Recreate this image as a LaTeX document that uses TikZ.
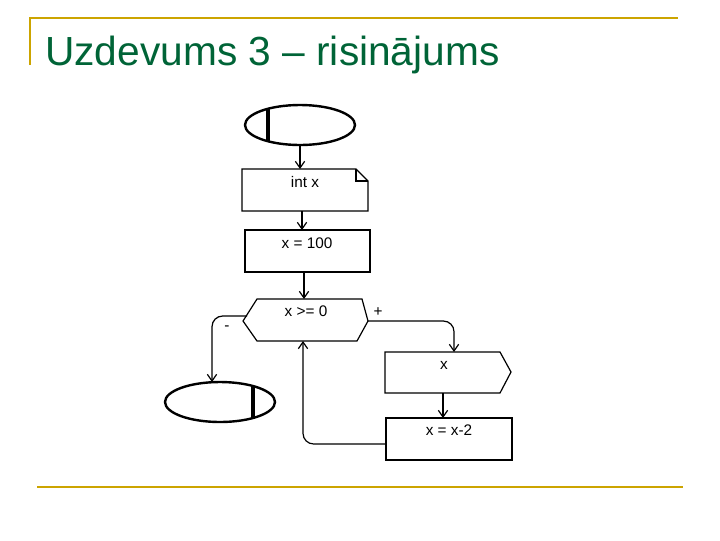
\documentclass[tikz,border=0pt]{standalone}
\usepackage{fontspec}
\setmainfont{Liberation Sans}
\usetikzlibrary{arrows.meta,shapes.geometric}
\definecolor{gold}{RGB}{204,164,0}
\definecolor{ttl}{RGB}{0,100,55}
\begin{document}
\begin{tikzpicture}[x=0.75pt,y=-0.75pt,
  ln/.style={line width=0.9pt},
  arr/.style={ln,-{Straight Barb[length=5pt,width=7pt]},rounded corners=8pt},
  lbl/.style={font=\fontsize{11.5}{13}\selectfont,inner sep=0pt},
  term/.style={ellipse,draw,line width=1.8pt,minimum width=82.5pt,minimum height=30pt,inner sep=0pt}]
\useasboundingbox (0,0) rectangle (720,540);
\draw[gold,line width=2pt] (30,65) -- (30,18) -- (678,18);
\draw[gold,line width=2pt] (37,487) -- (683,487);
\node[anchor=base west,text=ttl,font=\fontsize{30.5}{34}\selectfont,inner sep=0pt] (title) at (45,65) {Uzdevums 3 – risinājums};
% start
\node[term] (s) at (300,125) {};
\draw[line width=2.4pt] (268,109) -- (268,141);
% declare
\draw[ln] (242,169) -- (356,169) -- (368,181) -- (368,211) -- (242,211) -- cycle;
\draw[ln] (356,169) -- (356,181) -- (368,181);
\coordinate (dtop) at (300,169);
\coordinate (dbot) at (302,211);
\node[lbl] (d) at (305,182) {int x};
% assign
\draw[ln] (245,230) rectangle (370,272);
\coordinate (atop) at (302,230);
\coordinate (abot) at (304,272);
\node[lbl] (a) at (307,243) {x = 100};
% decision
\draw[ln] (243,321) -- (257,299) -- (362,299) -- (368,321) -- (357,341) -- (257,341) -- cycle;
\coordinate (ctop) at (304,299);
\coordinate (cbot) at (303,341);
\coordinate (cr) at (368,321);
\coordinate (cl) at (247,316);
\node[lbl] (c) at (306,311) {x >= 0};
\node[lbl] (plus) at (378,312) {+};
\node[lbl] (minus) at (227,328) {-};
% output
\draw[ln] (385,352) -- (500,352) -- (511,372) -- (500,393) -- (385,393) -- cycle;
\coordinate (otop) at (454,352);
\coordinate (obot) at (443,393);
\node[lbl] (o) at (444,365) {x};
% update
\draw[ln] (386,418) rectangle (512,460);
\coordinate (utop) at (443,418);
\coordinate (ul) at (386,444);
\node[lbl] (u) at (449,430) {x = x-2};
% end
\node[term] (e) at (220,402) {};
\draw[line width=2.4pt] (253,386) -- (253,418);
% connectors
\draw[arr] (s.south) -- (dtop);
\draw[arr] (dbot) -- (atop);
\draw[arr] (abot) -- (ctop);
\draw[arr] (cr) -- (454,321) -- (otop);
\draw[arr] (obot) -- (utop);
\draw[arr] (ul) -- (303,444) -- (cbot);
\draw[arr] (cl) -- (212,316) -- (212,382);
\end{tikzpicture}
\end{document}
